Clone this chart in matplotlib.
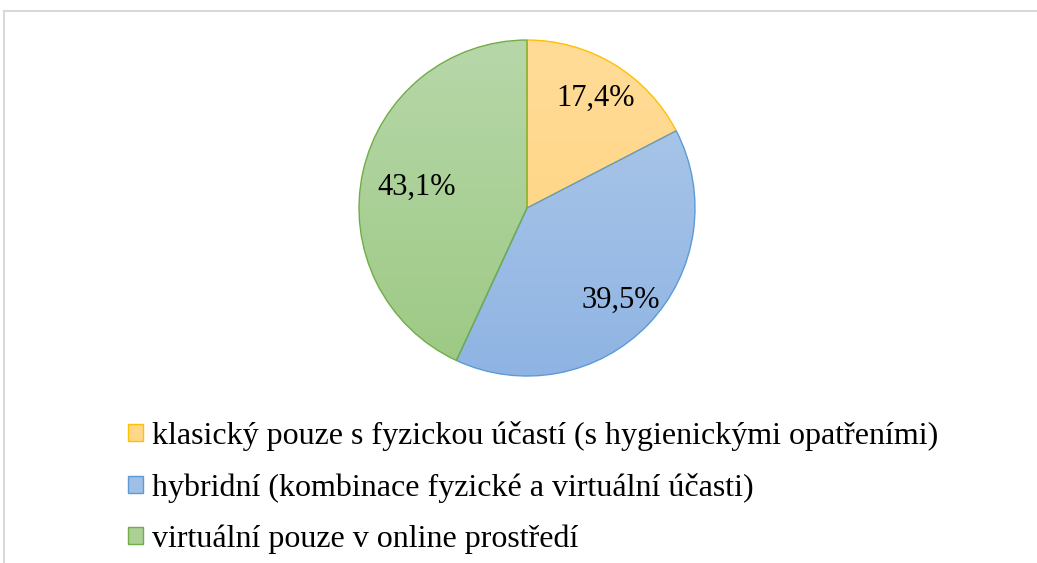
import numpy as np
import matplotlib.pyplot as plt
from matplotlib.colors import LinearSegmentedColormap, to_rgb
from matplotlib.lines import Line2D
from matplotlib.patches import Patch

categories = [
    "klasický pouze s fyzickou účastí (s hygienickými opatřeními)",
    "hybridní (kombinace fyzické a virtuální účasti)",
    "virtuální pouze v online prostředí",
]
shares = [17.4, 39.5, 43.1]
labels = ["17,4%", "39,5%", "43,1%"]
label_dist = [0.79, 0.77, 0.67]

top_colors = ["#FFDC98", "#B0CAEA", "#B7D7A9"]
bottom_colors = ["#FFD27A", "#8FB4E3", "#9CC983"]
edge_colors = ["#FFC000", "#5B9BD5", "#70AD47"]

plt.rcParams['font.family'] = ['Liberation Serif', 'DejaVu Serif']

fig = plt.figure(figsize=(10.37, 5.63), dpi=100)
ax = fig.add_axes([0.3462, 0.3321, 0.324, 0.5968])

wedges, _ = ax.pie(shares, startangle=90, counterclock=False, radius=1,
                   colors=top_colors,
                   wedgeprops=dict(linewidth=1.0))

grad = np.linspace(0, 1, 256).reshape(-1, 1)
for w, c_top, c_bot, ec in zip(wedges, top_colors, bottom_colors, edge_colors):
    w.set_edgecolor(ec)
    w.set_facecolor("none")
    w.set_zorder(3)
    cmap = LinearSegmentedColormap.from_list("g", [c_top, c_bot])
    im = ax.imshow(grad, cmap=cmap, extent=[-1, 1, -1, 1], origin="upper",
                   aspect="auto", zorder=2)
    im.set_clip_path(w)

for w, txt, d in zip(wedges, labels, label_dist):
    ang = np.deg2rad((w.theta1 + w.theta2) / 2)
    ax.text(d * np.cos(ang), d * np.sin(ang) - 0.02, txt, ha="center",
            va="center", fontsize=22, zorder=4)

ax.set_xlim(-1.0, 1.0)
ax.set_ylim(-1.0, 1.0)
ax.set_aspect("equal")
ax.axis("off")

handles = [Patch(facecolor=(np.array(to_rgb(t)) + np.array(to_rgb(b))) / 2,
                 edgecolor=e, linewidth=1.0)
           for t, b, e in zip(top_colors, bottom_colors, edge_colors)]
fig.legend(handles, categories, loc="upper left",
           bbox_to_anchor=(0.1234, 0.2522), frameon=False, fontsize=23,
           handlelength=0.47, handleheight=0.47, handletextpad=0.28,
           labelspacing=0.68, borderpad=0, borderaxespad=0)

# light frame on top and left, as in the source
fig.add_artist(Line2D([0.004, 1.0], [1 - 11 / 563] * 2, color="#D9D9D9",
                      linewidth=1.5, transform=fig.transFigure))
fig.add_artist(Line2D([0.004, 0.004], [0.0, 1 - 11 / 563], color="#D9D9D9",
                      linewidth=1.5, transform=fig.transFigure))

fig.savefig("out.png", dpi=100)
